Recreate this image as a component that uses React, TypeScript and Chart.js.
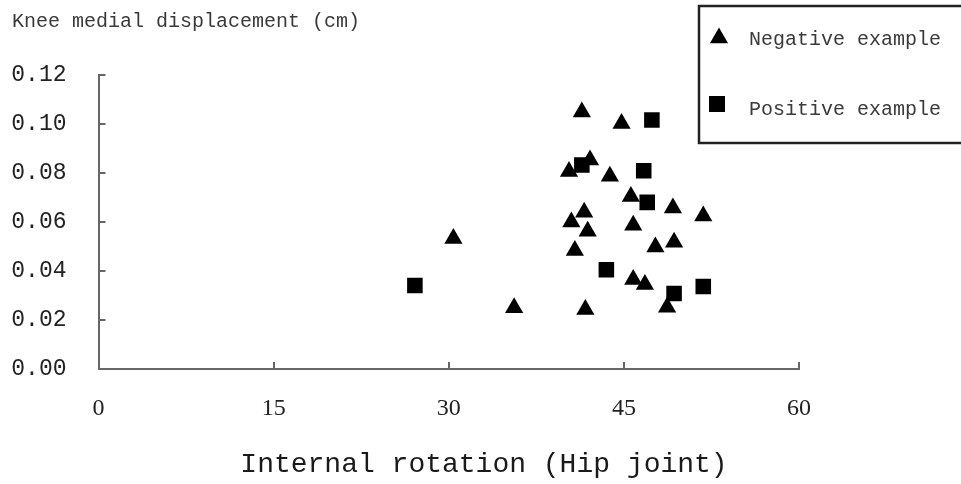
import React, { useEffect, useRef } from 'react';
import { Chart, registerables } from 'chart.js';

Chart.register(...registerables);

const seriesNames = ['Negative example', 'Positive example'];
const xTitle = 'Internal rotation (Hip joint)';
const yTitle = 'Knee medial displacement (cm)';
const xTicks = [0, 15, 30, 45, 60];
const yTicks = [0, 0.02, 0.04, 0.06, 0.08, 0.1, 0.12];

const negX = [30.4, 35.6, 41.4, 44.8, 42.1, 40.3, 43.8, 45.6, 49.2, 51.8, 41.6, 40.5, 41.9, 45.8, 40.8, 47.7, 49.3, 45.8, 46.8, 41.7, 48.7];
const negY = [0.0533, 0.025, 0.1049, 0.1002, 0.0853, 0.0806, 0.0787, 0.0704, 0.0657, 0.0624, 0.064, 0.06, 0.0562, 0.0587, 0.0484, 0.0498, 0.0517, 0.0365, 0.0345, 0.0243, 0.0252];
const posX = [27.1, 47.4, 41.4, 46.7, 47.0, 43.5, 49.3, 51.8];
const posY = [0.0341, 0.1016, 0.0833, 0.0809, 0.068, 0.0405, 0.0308, 0.0337];

const FONT = '"Liberation Mono", "DejaVu Sans Mono", monospace';
const SERIF = '"Liberation Serif", "DejaVu Serif", serif';

const decorPlugin = {
  id: 'decor',
  afterDraw(chart: any) {
    const { ctx, chartArea, scales } = chart;
    const xs = scales.x;
    const ys = scales.y;
    ctx.save();
    // inward tick marks
    ctx.strokeStyle = '#666';
    ctx.lineWidth = 2;
    ctx.beginPath();
    xTicks.forEach((v) => {
      if (v === xTicks[0]) return;
      const px = Math.round(xs.getPixelForValue(v));
      ctx.moveTo(px, chartArea.bottom);
      ctx.lineTo(px, chartArea.bottom - 7);
    });
    yTicks.forEach((v) => {
      if (v === yTicks[0]) return;
      const py = Math.round(ys.getPixelForValue(v));
      ctx.moveTo(chartArea.left, py);
      ctx.lineTo(chartArea.left + 7, py);
    });
    ctx.stroke();

    // axis titles
    ctx.fillStyle = '#3a3a3a';
    ctx.font = `20px ${FONT}`;
    ctx.textAlign = 'left';
    ctx.textBaseline = 'middle';
    ctx.fillText(yTitle, 12, 22);

    ctx.fillStyle = '#1a1a1a';
    ctx.font = `28px ${FONT}`;
    ctx.textAlign = 'center';
    ctx.fillText(xTitle, 484, 465);

    // legend
    ctx.strokeStyle = '#222';
    ctx.lineWidth = 2.5;
    ctx.strokeRect(699, 6, 300, 137);
    ctx.fillStyle = '#000';
    const r = 10.5;
    const tx = 719, ty = 38;
    ctx.beginPath();
    ctx.moveTo(tx, ty - r);
    ctx.lineTo(tx + r * Math.sin((2 * Math.PI) / 3), ty - r * Math.cos((2 * Math.PI) / 3));
    ctx.lineTo(tx + r * Math.sin((4 * Math.PI) / 3), ty - r * Math.cos((4 * Math.PI) / 3));
    ctx.closePath();
    ctx.fill();
    const s = 16;
    ctx.fillRect(717 - s / 2, 104 - s / 2, s, s);

    ctx.fillStyle = '#3a3a3a';
    ctx.font = `20px ${FONT}`;
    ctx.textAlign = 'left';
    ctx.textBaseline = 'middle';
    ctx.fillText(seriesNames[0], 749, 40);
    ctx.fillText(seriesNames[1], 749, 110);
    ctx.restore();
  },
};

export default function App() {
  const canvasRef = useRef<HTMLCanvasElement | null>(null);

  useEffect(() => {
    document.body.style.margin = '0';
    const canvas = canvasRef.current;
    if (!canvas) return;
    const chart = new Chart(canvas, {
      type: 'scatter',
      data: {
        datasets: [
          {
            label: seriesNames[0],
            data: negX.map((x, i) => ({ x, y: negY[i] })),
            pointStyle: 'triangle',
            pointRadius: 10.5,
            pointHoverRadius: 10.5,
            backgroundColor: '#000',
            borderColor: '#000',
            borderWidth: 0,
          },
          {
            label: seriesNames[1],
            data: posX.map((x, i) => ({ x, y: posY[i] })),
            pointStyle: 'rect',
            pointRadius: 11,
            pointHoverRadius: 11,
            backgroundColor: '#000',
            borderColor: '#000',
            borderWidth: 0,
          },
        ],
      },
      options: {
        responsive: true,
        maintainAspectRatio: false,
        animation: false,
        layout: { padding: { top: 75, right: 162, left: 0, bottom: 0 } },
        plugins: {
          legend: { display: false },
          tooltip: { enabled: false },
          title: { display: false },
        },
        scales: {
          x: {
            type: 'linear',
            min: xTicks[0],
            max: xTicks[xTicks.length - 1],
            afterBuildTicks: (axis: any) => {
              axis.ticks = xTicks.map((v) => ({ value: v }));
            },
            afterFit: (axis: any) => {
              axis.height = 115;
            },
            grid: { display: false, drawTicks: false },
            border: { display: true, color: '#666', width: 2 },
            ticks: {
              padding: 25,
              color: '#222',
              font: { family: SERIF, size: 24 },
              callback: (v: any) => String(v),
            },
          },
          y: {
            type: 'linear',
            min: yTicks[0],
            max: yTicks[yTicks.length - 1],
            afterBuildTicks: (axis: any) => {
              axis.ticks = yTicks.map((v) => ({ value: v }));
            },
            afterFit: (axis: any) => {
              axis.width = 98.5;
            },
            grid: { display: false, drawTicks: false },
            border: { display: true, color: '#666', width: 2 },
            ticks: {
              padding: 32,
              color: '#222',
              font: { family: FONT, size: 23 },
              callback: (v: any) => Number(v).toFixed(2),
            },
          },
        },
      },
      plugins: [decorPlugin],
    });
    return () => chart.destroy();
  }, []);

  return (
    <div style={{ position: 'fixed', left: 0, top: 0, width: 961, height: 484 }}>
      <canvas ref={canvasRef} />
    </div>
  );
}
